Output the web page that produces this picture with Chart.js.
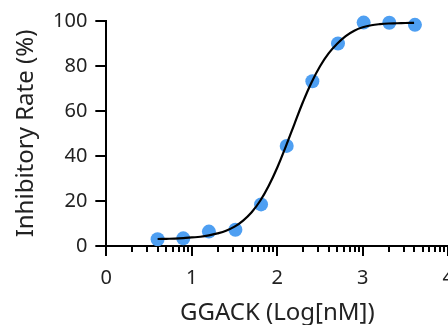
<!DOCTYPE html>
<html>
<head>
<meta charset="utf-8">
<script src="https://cdn.jsdelivr.net/npm/chart.js@4"></script>
<style>
  html, body { margin: 0; padding: 0; background: #fff; overflow: hidden; }
  #wrap { width: 464px; height: 325px; }
</style>
</head>
<body>
<div id="wrap"><canvas id="chart"></canvas></div>
<script>
// Measured points (log concentration vs inhibition)
const doseLog = [0.60, 0.90, 1.20, 1.51, 1.81, 2.11, 2.41, 2.71, 3.01, 3.31, 3.61];
const inhibition = [3.0, 3.4, 6.4, 7.2, 18.5, 44.5, 73.2, 90.0, 99.3, 99.2, 98.3];

// Fitted curve
const fitX = [0.6, 0.7, 0.8, 0.9, 1.0, 1.1, 1.2, 1.3, 1.4, 1.5, 1.6, 1.7, 1.8, 1.9, 2.0,
              2.1, 2.2, 2.3, 2.4, 2.5, 2.6, 2.7, 2.8, 2.9, 3.0, 3.1, 3.2, 3.3, 3.4, 3.5, 3.6];
const fitY = [3.1, 3.2, 3.3, 3.5, 3.8, 4.1, 4.7, 5.6, 6.8, 8.6, 11.3, 15.0, 20.1, 26.8, 34.9,
              44.3, 54.2, 64.0, 72.7, 79.9, 85.6, 89.9, 93.3, 95.7, 97.2, 98.1, 98.6, 98.9, 99.0, 99.1, 99.2];

const xTicks = [0, 1, 2, 3, 4];
const yTicks = [0, 20, 40, 60, 80, 100];

// log-style minor ticks between decades
const minorTicks = [];
for (let d = 0; d < 4; d++) {
    for (let k = 2; k <= 9; k++) minorTicks.push(d + Math.log10(k));
}

const minorTickPlugin = {
    id: 'minorTicks',
    afterDraw(chart) {
        const ctx = chart.ctx;
        const xs = chart.scales.x;
        ctx.save();
        ctx.strokeStyle = '#000';
        ctx.lineWidth = 2;
        ctx.beginPath();
        minorTicks.forEach(v => {
            const px = Math.round(xs.getPixelForValue(v));
            ctx.moveTo(px, xs.top);
            ctx.lineTo(px, xs.top + 6);
        });
        ctx.stroke();
        ctx.restore();
    }
};

const font = "'Noto Sans', 'Open Sans', sans-serif";

new Chart(document.getElementById('chart'), {
    type: 'scatter',
    data: {
        datasets: [
            {
                label: 'Fit',
                type: 'line',
                data: fitX.map((x, i) => ({ x: x, y: fitY[i] })),
                borderColor: '#000',
                borderWidth: 2.2,
                pointRadius: 0,
                tension: 0.4,
                fill: false,
                clip: false,
                order: 0
            },
            {
                label: 'Data',
                data: doseLog.map((x, i) => ({ x: x, y: inhibition[i] })),
                backgroundColor: '#4e9ff2',
                borderWidth: 0,
                pointRadius: 7,
                clip: false,
                order: 1
            }
        ]
    },
    options: {
        responsive: true,
        maintainAspectRatio: false,
        animation: false,
        layout: { padding: { top: 21, left: 14, right: 0, bottom: 0 } },
        plugins: {
            legend: { display: false },
            tooltip: { enabled: false }
        },
        scales: {
            x: {
                type: 'linear',
                min: 0,
                max: 4,
                afterBuildTicks: axis => { axis.ticks = xTicks.map(v => ({ value: v })); },
                border: { color: '#000', width: 2 },
                grid: { drawOnChartArea: false, color: '#000', lineWidth: 2, tickLength: 10 },
                ticks: { color: '#222', font: { family: font, size: 20 }, padding: 10, maxRotation: 0 },
                title: { display: true, text: 'GGACK (Log[nM])', color: '#222', font: { family: font, size: 24, lineHeight: 1.0 }, padding: { top: 1, bottom: 0 } }
            },
            y: {
                min: 0,
                max: 100,
                afterBuildTicks: axis => { axis.ticks = yTicks.map(v => ({ value: v })); },
                border: { color: '#000', width: 2 },
                grid: { drawOnChartArea: false, color: '#000', lineWidth: 2, tickLength: 11 },
                ticks: { color: '#222', font: { family: font, size: 20 }, padding: 8 },
                title: { display: true, text: 'Inhibitory Rate (%)', color: '#222', font: { family: font, size: 24, lineHeight: 1.0 }, padding: { top: 0, bottom: 7 } }
            }
        }
    },
    plugins: [minorTickPlugin]
});
</script>
</body>
</html>
